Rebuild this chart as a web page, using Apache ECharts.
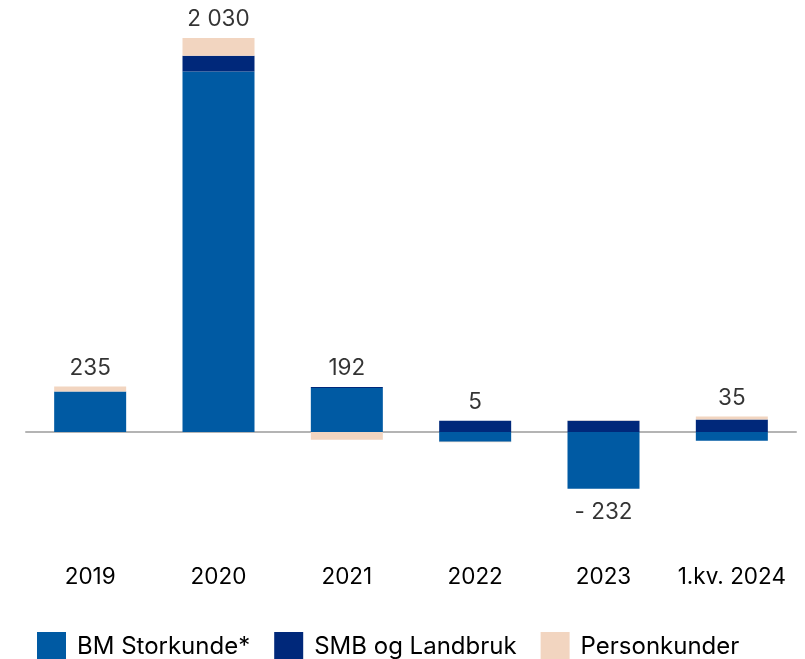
<!DOCTYPE html>
<html>
<head>
<meta charset="utf-8">
<script src="https://cdn.jsdelivr.net/npm/echarts@6/dist/echarts.min.js"></script>
<style>html,body{margin:0;padding:0;background:#fff}#c{width:805px;height:659px}</style>
</head>
<body>
<div id="c"></div>
<script>
const categories = ['2019', '2020', '2021', '2022', '2023', '1.kv. 2024'];
const bmStorkunde = [209, 1857, 227, -50, -292, -45];
const smbLandbruk = [0, 82, 5, 58, 58, 64];
const personkunder = [26, 91, -40, -3, 2, 16];
const seriesNames = ['BM Storkunde*', 'SMB og Landbruk', 'Personkunder'];
const colors = ['#005AA3', '#00287A', '#F2D5C0'];

const all = [bmStorkunde, smbLandbruk, personkunder];
const totals = categories.map((_, i) => all.reduce((s, a) => s + a[i], 0));
const posTop = categories.map((_, i) => all.reduce((s, a) => s + Math.max(0, a[i]), 0));
const negBottom = categories.map((_, i) => all.reduce((s, a) => s + Math.min(0, a[i]), 0));

function fmt(v) {
  const a = Math.abs(v).toString().replace(/\B(?=(\d{3})+(?!\d))/g, ' ');
  return v < 0 ? '- ' + a : a;
}

const font = 'Inter, "Open Sans", sans-serif';
const chart = echarts.init(document.getElementById('c'));
const bars = all.map((arr, k) => ({
  name: seriesNames[k],
  type: 'bar',
  stack: 'tot',
  barWidth: 72,
  data: arr,
  itemStyle: { color: colors[k] },
  xAxisIndex: 0
}));

chart.setOption({
  animation: false,
  grid: { left: 26, right: 9, top: 24.4, bottom: 110.5 },
  legend: {
    top: 632,
    left: 37,
    padding: 0,
    itemWidth: 29,
    itemHeight: 29,
    itemGap: 24,
    icon: 'rect',
    textStyle: { fontSize: 24, color: '#000', fontFamily: font, padding: [0, 0, 0, 6] },
    data: seriesNames
  },
  xAxis: [{
    type: 'category',
    data: categories,
    position: 'bottom',
    axisLine: { show: false, onZero: false },
    axisTick: { show: false },
    axisLabel: { interval: 0, fontSize: 22.5, color: '#000', fontFamily: font, margin: 17 }
  }, {
    type: 'category',
    data: categories,
    axisLine: { show: true, onZero: true, lineStyle: { color: '#b4b4b4', width: 2 } },
    axisTick: { show: false },
    axisLabel: { show: false }
  }],
  yAxis: {
    type: 'value',
    min: -600,
    max: 2100,
    show: false,
    splitLine: { show: false }
  },
  series: bars.concat([{
    type: 'scatter',
    symbolSize: 0,
    silent: true,
    data: totals.map((t, i) => ({
      value: t >= 0 ? posTop[i] : negBottom[i],
      label: {
        show: true,
        position: t >= 0 ? 'top' : 'bottom',
        distance: t >= 0 ? 7 : 12,
        formatter: fmt(t),
        fontSize: 22.5,
        color: '#000',
        fontFamily: font
      }
    }))
  }])
});
</script>
</body>
</html>
